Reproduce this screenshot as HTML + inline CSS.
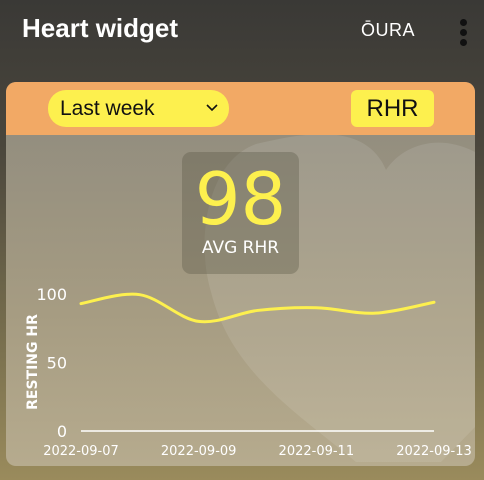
<!DOCTYPE html>
<html><head><meta charset="utf-8"><style>
html,body{margin:0;padding:0;width:484px;height:480px;overflow:hidden}
body{background:linear-gradient(#3a3936 0%,#4a463c 30%,#7d7350 75%,#9a8b5c 100%);font-family:"DejaVu Sans","Liberation Sans",sans-serif;position:relative}
.title{position:absolute;left:22px;top:13px;color:#fff;font-size:26px;font-family:"Liberation Sans",sans-serif;font-weight:bold;letter-spacing:0px}
.oura{position:absolute;left:361px;top:20px;color:#fff;font-size:18px;font-family:"Liberation Sans",sans-serif;letter-spacing:0.5px}
.dots{position:absolute;left:460px;top:19px;width:8px}
.dots i{display:block;width:7px;height:7px;border-radius:50%;background:#111;margin-bottom:3px}
.card{position:absolute;left:6px;top:82px;width:469px;height:384px;border-radius:10px;overflow:hidden;background:linear-gradient(#8e8a7e 0%,#a69c82 60%,#b6ab8e 100%)}
.hdr{position:absolute;left:0;top:0;width:469px;height:53px;background:#f2a965}
.dd{position:absolute;left:42px;top:8px;width:181px;height:37px;border-radius:18px;background:#fdf04e;font-family:"Liberation Sans",sans-serif;font-size:21px;line-height:37px;color:#111}
.rhr{position:absolute;left:345px;top:8px;width:83px;height:37px;border-radius:6px;background:#fdf04e;font-family:"Liberation Sans",sans-serif;font-size:24px;line-height:37px;text-align:center;color:#111}
.avg{position:absolute;left:176px;top:70px;width:117px;height:122px;border-radius:9px;background:rgba(90,85,70,0.35);text-align:center}
</style></head><body>
<div class="title">Heart widget</div>
<div class="oura">ŌURA</div>
<div class="dots"><i></i><i></i><i></i></div>
<div class="card">
<svg width="469" height="384" style="position:absolute;left:0;top:0">
<path d="M380 88 C360 40 300 50 250 62 C200 80 190 160 205 210 C225 290 290 330 350 380 L435 380 L469 345 L469 70 C430 50 395 65 380 88 Z" fill="rgba(255,255,255,0.1)"/>
</svg>
<div class="hdr"></div>
<div class="dd"><span style="position:absolute;left:12px">Last week</span><svg style="position:absolute;left:158px;top:14px" width="12" height="8"><path d="M1 1 L6 6 L11 1" stroke="#111" stroke-width="1.6" fill="none"/></svg></div>
<div class="rhr">RHR</div>
<div class="avg">
<div style="color:#fdf04e;font-size:72px;line-height:74px;margin-top:10px">98</div>
<div style="color:#fff;font-size:17px;margin-top:2px">AVG RHR</div>
</div>
</div>
<svg id="chart" width="484" height="480" style="position:absolute;left:0;top:0"></svg>
<script>
const categories=["2022-09-07","2022-09-08","2022-09-09","2022-09-10","2022-09-11","2022-09-12","2022-09-13"];
const values=[93,99.5,80,88,90,86,94];
const yTicks=[0,50,100];
const xLabels=["2022-09-07","2022-09-09","2022-09-11","2022-09-13"];
const NS="http://www.w3.org/2000/svg";
const svg=document.getElementById('chart');
const x0=81,x1=434,y0=431,y100=294;
function xs(i){return x0+(x1-x0)*i/(categories.length-1);}
function ys(v){return y0+(y100-y0)*v/100;}
function mk(t,a){const e=document.createElementNS(NS,t);for(const k in a)e.setAttribute(k,a[k]);svg.appendChild(e);return e;}
const base=mk('line',{x1:x0,x2:x1,y1:y0,y2:y0,stroke:'#fff','stroke-width':1.5});


yTicks.forEach(v=>{const t=mk('text',{x:67,y:ys(v)+6,'text-anchor':'end',fill:'#fff','font-size':16,'font-family':'DejaVu Sans, sans-serif'});t.textContent=v;

});
xLabels.forEach(l=>{const i=categories.indexOf(l);const t=mk('text',{x:xs(i),y:455,'text-anchor':'middle',fill:'#fff','font-size':13,'font-family':'DejaVu Sans, sans-serif'});t.textContent=l;

});
const yt=mk('text',{transform:'translate(37,362) rotate(-90)','text-anchor':'middle',fill:'#fff','font-size':14,'font-weight':'bold','font-family':'DejaVu Sans, sans-serif'});
yt.textContent='RESTING HR';


const pts=values.map((v,i)=>[xs(i),ys(v)]);
let d='M'+pts[0][0]+' '+pts[0][1];
for(let i=0;i<pts.length-1;i++){const p0=pts[i-1]||pts[i],p1=pts[i],p2=pts[i+1],p3=pts[i+2]||p2;
const c1=[p1[0]+(p2[0]-p0[0])/6,p1[1]+(p2[1]-p0[1])/6],c2=[p2[0]-(p3[0]-p1[0])/6,p2[1]-(p3[1]-p1[1])/6];
d+=` C${c1[0]} ${c1[1]} ${c2[0]} ${c2[1]} ${p2[0]} ${p2[1]}`;}
const line=mk('path',{d:d,fill:'none',stroke:'#fdf04e','stroke-width':3,'stroke-linecap':'round'});


</script>
</body></html>
